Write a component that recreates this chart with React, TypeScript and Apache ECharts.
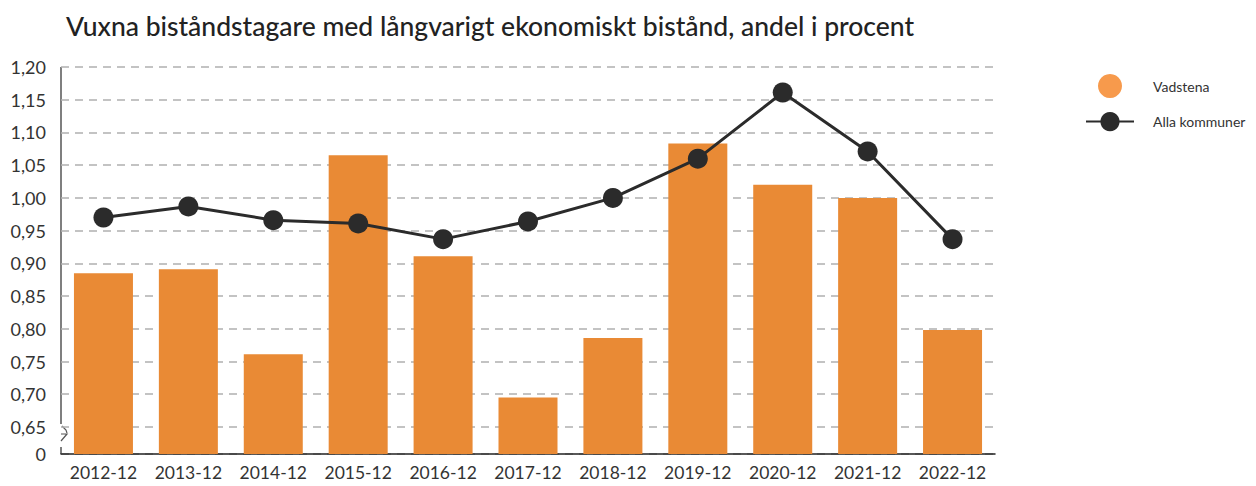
import React, { useEffect, useRef } from "react";
import * as echarts from "echarts";

const categories = ["2012-12", "2013-12", "2014-12", "2015-12", "2016-12", "2017-12", "2018-12", "2019-12", "2020-12", "2021-12", "2022-12"];
const vadstena = [0.885, 0.891, 0.761, 1.065, 0.911, 0.695, 0.786, 1.083, 1.02, 1.0, 0.798];
const allaKommuner = [0.97, 0.987, 0.966, 0.961, 0.937, 0.964, 1.0, 1.06, 1.161, 1.071, 0.937];
const axisMin = 0.6087;
const axisMax = 1.2;
const splitCount = 12;

export default function App() {
  const ref = useRef<HTMLDivElement>(null);
  useEffect(() => {
    if (!ref.current) return;
    const chart = echarts.init(ref.current, null, { renderer: "svg" });
    const font = "Lato, 'Noto Sans', sans-serif";
    chart.setOption({
      animation: false,
      textStyle: { fontFamily: font },
      title: {
        text: "Vuxna biståndstagare med långvarigt ekonomiskt bistånd, andel i procent",
        left: 61,
        top: 7,
        textStyle: { fontSize: 26.5, fontWeight: 500, color: "#222", fontFamily: font },
      },
      legend: {
        orient: "vertical",
        left: 1080,
        top: 69,
        itemWidth: 48,
        itemHeight: 24,
        itemGap: 14,
        textStyle: { fontSize: 14, color: "#333", padding: [7, 0, 0, 14] },
        data: [
          { name: "Vadstena", icon: "circle", itemStyle: { color: "#F79A4C" } },
          { name: "Alla kommuner" },
        ],
      },
      grid: { left: 61, right: 261, top: 67, bottom: 32, containLabel: false },
      xAxis: {
        type: "category",
        data: categories,
        axisTick: { show: false },
        axisLine: { lineStyle: { color: "#222", width: 1.5 } },
        axisLabel: { fontSize: 17.5, color: "#333", margin: 9, interval: 0 },
      },
      yAxis: {
        type: "value",
        min: axisMin,
        max: axisMax,
        splitNumber: splitCount,
        axisLine: { show: false },
        axisTick: { show: false },
        axisLabel: {
          fontSize: 18,
          color: "#333",
          margin: 15,
          formatter: (v: number) => (v < 0.64 ? "0" : v.toFixed(2).replace(".", ",")),
        },
        splitLine: {
          lineStyle: { color: "#b0b0b0", width: 1.5, type: [8, 6] },
        },
      },
      graphic: [
        { type: "line", shape: { x1: 61, y1: 67, x2: 61, y2: 424 }, style: { stroke: "#555", lineWidth: 1.5 } },
        { type: "line", shape: { x1: 61, y1: 447, x2: 61, y2: 454 }, style: { stroke: "#555", lineWidth: 1.5 } },
        { type: "polyline", shape: { points: [[62, 426], [66, 430], [67, 433]] }, style: { stroke: "#555", lineWidth: 1.2, fill: null } },
        { type: "polyline", shape: { points: [[61, 434], [67, 434], [61, 441]] }, style: { stroke: "#555", lineWidth: 1.2, fill: null } },
      ],
      series: [
        {
          name: "Vadstena",
          type: "bar",
          data: vadstena,
          barWidth: 59,
          itemStyle: { color: "#E98A35" },
        },
        {
          name: "Alla kommuner",
          type: "line",
          data: allaKommuner,
          symbol: "circle",
          symbolSize: 20,
          lineStyle: { color: "#2b2b2b", width: 3 },
          itemStyle: { color: "#2b2b2b" },
          z: 5,
        },
      ],
    });
    return () => chart.dispose();
  }, []);
  return <div ref={ref} style={{ position: "absolute", left: 0, top: 0, width: 1256, height: 486 }} />;
}
